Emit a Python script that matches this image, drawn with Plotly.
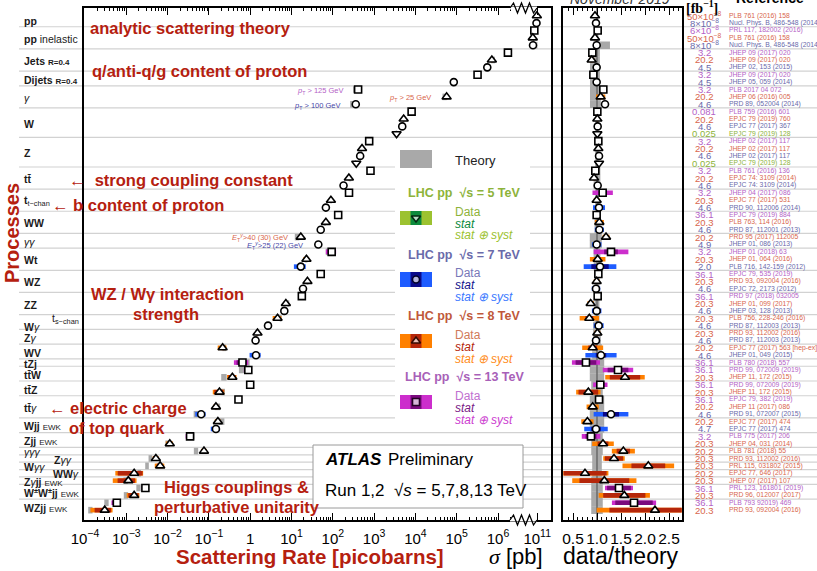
import math
import plotly.graph_objects as go

W_PX, H_PX = 817, 571

# ---------------- data (one row per measurement, top to bottom) ----------------
energy = [8, 7, 13, 8, 7,
          13, 8, 7, 13, 7,
          13, 8, 7,
          13, 8, 7, 5,
          13, 8, 7, 5,
          13, 8, 7,
          13, 8, 7,
          13, 8, 7,
          8, 7,
          13, 8, 7,
          13, 8, 7,
          13, 8, 7,
          8, 7, 8, 7, 8, 7,
          13, 13, 8, 13, 8, 13, 8, 7,
          8, 7, 13, 8,
          8, 8, 8, 8, 8,
          13, 8, 13, 8]

sigma_pb = [9.8e10, 9.6e10, 8.5e10, 7.8e10, 7.9e10,
            1.74e6, 7.1e5, 5.5e5, 3.2e5, 8.5e4,
            410, 5.7e4, 360,
            8100, 5200, 4800, 3500,
            760, 510, 460, 370,
            818, 245, 182,
            247, 90, 68,
            135, 68, 51,
            16.8, 44.6,
            94, 23, 16.8,
            51, 24.3, 19,
            17.8, 7.3, 6.7,
            4.6, 2.7, 1.5, 1.35, 0.215, 1.38,
            0.65, 0.9, 0.37, 1.0, 0.18, 0.52, 0.148, 0.065,
            0.165, 0.148, 0.035, 0.0113,
            0.076, 5.2e-3, 6.6e-3, 1.55e-3, 1.12e-3,
            2.9e-3, 1.55e-3, 5.9e-4, 3.0e-4]

ratio = [0.958, 0.979, 1.014, 0.958, 0.993,
         0.903, 0.889, 0.993, 0.924, 0.993,
         1.132, 1.076, 1.167,
         1.007, 1.007, 1.014, 1.007,
         1.028, 1.028, 1.042, 1.042,
         0.965, 0.938, 1.014,
         1.118, 0.993, 1.042,
         0.993, 1.049, 1.049,
         1.188, 0.993,
         1.292, 1.014, 1.063,
         1.028, 0.993, 0.979,
         1.014, 0.868, 0.993,
         0.84, 1.035, 1.007, 0.979, 0.91, 1.083,
         0.77, 1.4375, 1.583, 1.069, 0.82, 1.042, 0.91, 1.292,
         0.80, 0.979, 0.875, 1.125,
         1.549, 1.354, 2.069, 0.75, 1.153,
         1.458, 1.569, 1.771, 2.208]

stat_err = [0.005, 0.005, 0.005, 0.005, 0.005,
            0.01, 0.01, 0.01, 0.01, 0.01,
            0.01, 0.02, 0.01,
            0.005, 0.005, 0.005, 0.01,
            0.005, 0.005, 0.005, 0.01,
            0.01, 0.01, 0.01,
            0.07, 0.02, 0.04,
            0.03, 0.02, 0.04,
            0.02, 0.05,
            0.11, 0.06, 0.17,
            0.02, 0.04, 0.07,
            0.04, 0.05, 0.08,
            0.10, 0.03, 0.03, 0.04, 0.10, 0.10,
            0.28, 0.15, 0.20, 0.08, 0.25, 0.02, 0.05, 0.13,
            0.05, 0.10, 0.13, 0.10,
            0.09, 0.14, 0.17, 0.60, 0.45,
            0.17, 0.28, 0.22, 0.43]

tot_err = [0.02, 0.02, 0.02, 0.02, 0.02,
           0.06, 0.06, 0.06, 0.06, 0.06,
           0.05, 0.09, 0.05,
           0.03, 0.03, 0.03, 0.03,
           0.03, 0.03, 0.03, 0.03,
           0.04, 0.04, 0.04,
           0.19, 0.06, 0.12,
           0.07, 0.09, 0.09,
           0.06, 0.10,
           0.28, 0.16, 0.32,
           0.05, 0.06, 0.09,
           0.06, 0.08, 0.10,
           0.24, 0.10, 0.06, 0.08, 0.24, 0.30,
           0.38, 0.22, 0.26, 0.14, 0.31, 0.08, 0.14, 0.28,
           0.16, 0.25, 0.22, 0.20,
           0.155, 0.165, 0.26, 0.65, 0.58,
           0.20, 0.34, 0.26, 0.55]

theo_dn = [0.02, 0.02, 0.02, 0.03, 0.08,
           0.146, 0.146, 0.146, 0.146, 0.146,
           0.146, 0.146, 0.146,
           0.04, 0.04, 0.04, 0.04,
           0.04, 0.04, 0.04, 0.04,
           0.07, 0.07, 0.07,
           0.04, 0.04, 0.04,
           0.05, 0.05, 0.05,
           0.15, 0.15,
           0.07, 0.07, 0.07,
           0.05, 0.05, 0.05,
           0.05, 0.05, 0.05,
           0.05, 0.08, 0.08, 0.08, 0.10, 0.10,
           0.15, 0.15, 0.15, 0.12, 0.12, 0.15, 0.15, 0.15,
           0.15, 0.15, 0.12, 0.12,
           0.12, 0.10, 0.10, 0.10, 0.12,
           0.12, 0.12, 0.12, 0.12]

theo_up = [0.02, 0.02, 0.02, 0.03, 0.27,
           0.06, 0.06, 0.06, 0.06, 0.06,
           0.167, 0.08, 0.08,
           0.04, 0.04, 0.04, 0.04,
           0.04, 0.04, 0.04, 0.04,
           0.07, 0.07, 0.07,
           0.04, 0.04, 0.04,
           0.05, 0.05, 0.05,
           0.10, 0.10,
           0.07, 0.07, 0.07,
           0.05, 0.05, 0.05,
           0.05, 0.05, 0.05,
           0.05, 0.08, 0.08, 0.08, 0.10, 0.10,
           0.15, 0.15, 0.15, 0.12, 0.12, 0.15, 0.15, 0.15,
           0.15, 0.15, 0.12, 0.12,
           0.12, 0.10, 0.10, 0.10, 0.12,
           0.12, 0.12, 0.12, 0.12]

lumi = ["50×10<sup>−8</sup>", "8×10<sup>−8</sup>", "6×10<sup>−8</sup>", "50×10<sup>−8</sup>", "8×10<sup>−8</sup>",
        "3.2", "20.2", "4.5", "3.2", "4.5",
        "3.2", "20.2", "4.6",
        "0.081", "20.2", "4.6", "0.025",
        "3.2", "20.2", "4.6", "0.025",
        "3.2", "20.2", "4.6",
        "3.2", "20.3", "4.6",
        "36.1", "20.3", "4.6",
        "20.2", "4.9",
        "3.2", "20.3", "2.0",
        "36.1", "20.3", "4.6",
        "36.1", "20.3", "4.6",
        "20.3", "4.6", "20.3", "4.6", "20.2", "4.6",
        "36.1", "36.1", "20.3", "36.1", "20.3", "36.1", "20.2", "4.6",
        "20.2", "4.7", "3.2", "20.3",
        "20.2", "20.3", "20.3", "20.2", "20.3",
        "36.1", "20.3", "36.1", "20.3"]

refs = ["PLB 761 (2016) 158", "Nucl. Phys. B, 486-548 (2014)", "PRL 117, 182002 (2016)",
        "PLB 761 (2016) 158", "Nucl. Phys. B, 486-548 (2014)",
        "JHEP 09 (2017) 020", "JHEP 09 (2017) 020", "JHEP 02, 153 (2015)",
        "JHEP 09 (2017) 020", "JHEP 05, 059 (2014)",
        "PLB 2017 04 072", "JHEP 06 (2016) 005", "PRD 89, 052004 (2014)",
        "PLB 759 (2016) 601", "EPJC 79 (2019) 760", "EPJC 77 (2017) 367", "EPJC 79 (2019) 128",
        "JHEP 02 (2017) 117", "JHEP 02 (2017) 117", "JHEP 02 (2017) 117", "EPJC 79 (2019) 128",
        "PLB 761 (2016) 136", "EPJC 74: 3109 (2014)", "EPJC 74: 3109 (2014)",
        "JHEP 04 (2017) 086", "EPJC 77 (2017) 531", "PRD 90, 112006 (2014)",
        "EPJC 79 (2019) 884", "PLB 763, 114 (2016)", "PRD 87, 112001 (2013)",
        "PRD 95 (2017) 112005", "JHEP 01, 086 (2013)",
        "JHEP 01 (2018) 63", "JHEP 01, 064 (2016)", "PLB 716, 142-159 (2012)",
        "EPJC 79, 535 (2019)", "PRD 93, 092004 (2016)", "EPJC 72, 2173 (2012)",
        "PRD 97 (2018) 032005", "JHEP 01, 099 (2017)", "JHEP 03, 128 (2013)",
        "PLB 756, 228-246 (2016)", "PRD 87, 112003 (2013)", "PRD 93, 112002 (2016)",
        "PRD 87, 112003 (2013)", "EPJC 77 (2017) 563 [hep-ex]", "JHEP 01, 049 (2015)",
        "PLB 780 (2018) 557", "PRD 99, 072009 (2019)", "JHEP 11, 172 (2015)",
        "PRD 99, 072009 (2019)", "JHEP 11, 172 (2015)", "EPJC 79, 382 (2019)",
        "JHEP 11 (2017) 086", "PRD 91, 072007 (2015)",
        "EPJC 77 (2017) 474", "EPJC 77 (2017) 474", "PLB 775 (2017) 206", "JHEP 04, 031 (2014)",
        "PLB 781 (2018) 55", "PRD 93, 112002 (2016)", "PRL 115, 031802 (2015)",
        "EPJC 77, 646 (2017)", "JHEP 07 (2017) 107",
        "PRL 123, 161801 (2019)", "PRD 96, 012007 (2017)", "PLB 793 92019) 469", "PRD 93, 092004 (2016)"]

EWK = "<span style='font-size:8px'>EWK</span>"
R04 = "<span style='font-size:8px'><b>R=0.4</b></span>"
process_groups = [
    ("<b>pp</b>", 0, 1), ("<b>pp</b> inelastic", 2, 4),
    ("<b>Jets</b> " + R04, 5, 7), ("<b>Dijets</b> " + R04, 8, 9),
    ("<i>γ</i>", 10, 12), ("<b>W</b>", 13, 16), ("<b>Z</b>", 17, 20),
    ("<b>tt̄</b>", 21, 23), ("<b>t</b><sub>t−chan</sub>", 24, 26),
    ("<b>WW</b>", 27, 29), ("<i>γγ</i>", 30, 31), ("<b>Wt</b>", 32, 34),
    ("<b>WZ</b>", 35, 37), ("<b>ZZ</b>", 38, 40), ("t<sub>s−chan</sub>", 41, 41),
    ("<b>W</b><i>γ</i>", 42, 42), ("<b>Z</b><i>γ</i>", 43, 44), ("<b>WV</b>", 45, 46),
    ("<b>tZj</b>", 47, 47), ("<b>tt̄W</b>", 48, 49), ("<b>tt̄Z</b>", 50, 51),
    ("<b>tt̄</b><i>γ</i>", 52, 54), ("<b>Wjj</b> " + EWK, 55, 56),
    ("<b>Zjj</b> " + EWK, 57, 58), ("<i>γγγ</i>", 59, 59),
    ("<b>Z</b><i>γγ</i>", 60, 60), ("<b>W</b><i>γγ</i>", 61, 61),
    ("<b>WW</b><i>γ</i>", 62, 62), ("<b>Z</b><i>γ</i><b>jj</b> " + EWK, 63, 63),
    ("<b>W<sup>±</sup>W<sup>±</sup>jj</b> " + EWK, 64, 65),
    ("<b>WZjj</b> " + EWK, 66, 67),
]
indented_labels = {14: 50, 25: 52, 27: 51}   # group index -> left x (px)
no_line_after = {14}                           # t s-chan shares block with Wγ

left_ticks = [-4, -3, -2, -1, 0, 1, 2, 3, 4, 5, 6, 11]
right_ticks = [0.5, 1.0, 1.5, 2.0, 2.5]

# ---------------- styling ----------------
tot_col = {13: "#cc2ecc", 8: "#ff8000", 7: "#1e5cff", 5: "#9cc230"}
stat_col = {13: "#7a0a7e", 8: "#b5260a", 7: "#0a0a8a", 5: "#0c8a3c"}
ref_col = {13: "#b462c6", 8: "#d8664c", 7: "#6a6aaa", 5: "#8db33a"}
symbol = {13: "square", 8: "triangle-up", 7: "circle", 5: "triangle-down"}
msize = {13: 7, 8: 8, 7: 7, 5: 8}
THEORY = "#a9a9a9"
RED = "#b5200f"
FONT = "Liberation Sans, Arial, sans-serif"

BREAK_SHIFT = 4.05          # decades removed by the axis break


def u_of(s):
    l = math.log10(s)
    return l - BREAK_SHIFT if s > 1e8 else l


def fx(x):
    return x / W_PX


def fy(y):
    return 1 - y / H_PX


TOP, BOT = 8, 520
ROW0, ROWH = 15.7, 7.38
y_top = (TOP - ROW0) / ROWH
y_bot = (BOT - ROW0) / ROWH
L0, L1 = 84, 551
R0, R1 = 563.3, 681.7
DEC, X4 = 41.3, 85
xl_range = [-4 + (L0 - X4) / DEC, -4 + (L1 - X4) / DEC]
ONE, PXU = 597, 48
xr_range = [1 + (R0 - ONE) / PXU, 1 + (R1 - ONE) / PXU]

n = len(sigma_pb)
rows = list(range(n))

fig = go.Figure()


def hbars(xax, yax, lo, hi, colors, width_px):
    groups = {}
    for i, (l, h, c) in enumerate(zip(lo, hi, colors)):
        xs, ys = groups.setdefault(c, ([], []))
        xs += [l, h, None]
        ys += [i, i, None]
    for c, (xs, ys) in groups.items():
        fig.add_trace(go.Scatter(x=xs, y=ys, mode="lines", line=dict(color=c, width=width_px),
                                 xaxis=xax, yaxis=yax, hoverinfo="skip", showlegend=False))


# ---- left panel ----
th_c = [s / r for s, r in zip(sigma_pb, ratio)]
hbars("x", "y", [u_of(t * (1 - d)) for t, d in zip(th_c, theo_dn)],
      [u_of(t * (1 + up)) for t, up in zip(th_c, theo_up)], [THEORY] * n, 6.6)
hbars("x", "y", [u_of(s * (1 - e)) for s, e in zip(sigma_pb, tot_err)],
      [u_of(s * (1 + e)) for s, e in zip(sigma_pb, tot_err)], [tot_col[e] for e in energy], 4.6)
hbars("x", "y", [u_of(s * (1 - e)) for s, e in zip(sigma_pb, stat_err)],
      [u_of(s * (1 + e)) for s, e in zip(sigma_pb, stat_err)], [stat_col[e] for e in energy], 4.6)

# ---- right panel ----
hbars("x2", "y2", [1 - d for d in theo_dn], [1 + up for up in theo_up], [THEORY] * n, 7.6)
fig.add_trace(go.Scatter(x=[1, 1], y=[y_top, y_bot], mode="lines",
                         line=dict(color="#6a6a6a", width=1.5), xaxis="x2", yaxis="y2",
                         hoverinfo="skip", showlegend=False))
hbars("x2", "y2", [r * (1 - e) for r, e in zip(ratio, tot_err)],
      [r * (1 + e) for r, e in zip(ratio, tot_err)], [tot_col[e] for e in energy], 4.6)
hbars("x2", "y2", [r * (1 - e) for r, e in zip(ratio, stat_err)],
      [r * (1 + e) for r, e in zip(ratio, stat_err)], [stat_col[e] for e in energy], 4.6)

for xs, xax, yax in [([u_of(s) for s in sigma_pb], "x", "y"), (ratio, "x2", "y2")]:
    fig.add_trace(go.Scatter(
        x=xs, y=rows, mode="markers", xaxis=xax, yaxis=yax, hoverinfo="skip", showlegend=False,
        marker=dict(symbol=[symbol[e] for e in energy], size=[msize[e] for e in energy],
                    color="white", opacity=1, line=dict(color="black", width=1.6))))

# ---- legend markers (pixel overlay axes) ----
leg_rows = [(5, 211, 225), (7, 272, 287), (8, 334, 348), (13, 395, 409)]
fig.add_trace(go.Scatter(
    x=[416] * 4, y=[(a + b) / 2 for _, a, b in leg_rows], mode="markers", xaxis="x3", yaxis="y3",
    hoverinfo="skip", showlegend=False,
    marker=dict(symbol=[symbol[e] for e, _, _ in leg_rows], size=[msize[e] for e, _, _ in leg_rows],
                color="white", line=dict(color="black", width=1.6))))

shapes = []
annotations = []

# separator lines
bounds = []
for gi, (lab, a, b) in enumerate(process_groups[:-1]):
    if gi in no_line_after:
        continue
    bounds.append(b + 0.5)
for yb in bounds:
    shapes.append(dict(type="line", xref="paper", yref="y", x0=fx(19), x1=1, y0=yb, y1=yb,
                       line=dict(color="#d2d2d2", width=1.2), layer="below"))

# legend box & ATLAS box (white, hides separator lines)
shapes.append(dict(type="rect", xref="paper", yref="paper", x0=fx(395), x1=fx(530), y0=fy(430), y1=fy(146),
                   fillcolor="white", line=dict(width=0), layer="below"))
shapes.append(dict(type="rect", xref="paper", yref="paper", x0=fx(313), x1=fx(523), y0=fy(508), y1=fy(445),
                   fillcolor="white", line=dict(color="#9a9a9a", width=1), layer="below"))
# legend swatches
shapes.append(dict(type="rect", xref="paper", yref="paper", x0=fx(400), x1=fx(432), y0=fy(168), y1=fy(150),
                   fillcolor=THEORY, line=dict(width=0), layer="below"))
for e, a, b in leg_rows:
    shapes.append(dict(type="rect", xref="paper", yref="paper", x0=fx(400), x1=fx(432), y0=fy(b), y1=fy(a),
                       fillcolor=tot_col[e], line=dict(width=0), layer="below"))
    shapes.append(dict(type="rect", xref="paper", yref="paper", x0=fx(410.5), x1=fx(421.5), y0=fy(b), y1=fy(a),
                       fillcolor=stat_col[e], line=dict(width=0), layer="below"))

# axis break zigzags
for yb in (TOP, BOT):
    shapes.append(dict(type="line", xref="paper", yref="paper", x0=fx(510), x1=fx(537), y0=fy(yb), y1=fy(yb),
                       line=dict(color="white", width=3), layer="above"))
    pts = [(510, yb), (513.5, yb - 5), (517.5, yb + 5), (521.5, yb - 5), (525.5, yb + 5),
           (529.5, yb - 5), (533.5, yb + 5), (537, yb)]
    path = "M " + " L ".join(f"{fx(px):.5f},{fy(py):.5f}" for px, py in pts)
    shapes.append(dict(type="path", xref="paper", yref="paper", path=path,
                       line=dict(color="black", width=1.3), layer="above"))


def ann(text, x, y, size, color="black", xanchor="center", yanchor="middle", yref="paper",
        family=FONT, textangle=0):
    annotations.append(dict(text=text, x=fx(x), y=(fy(y) if yref == "paper" else y), xref="paper",
                            yref=yref, showarrow=False, xanchor=xanchor, yanchor=yanchor,
                            textangle=textangle, font=dict(size=size, color=color, family=family)))


# process labels
for gi, (lab, a, b) in enumerate(process_groups):
    ann(lab, indented_labels.get(gi, 22), (a + b) / 2 + 0.15, 10.5, "#1a1a1a", xanchor="left", yref="y")

# lumi & references
for i in rows:
    ann(lumi[i], 704, i, 9.5, ref_col[energy[i]], yref="y")
    ann(refs[i], 727, i, 6.8, ref_col[energy[i]], xanchor="left", yref="y")

# headers
ann("<i>November 2019</i>", 620, -1, 14, "#333")
ann("<b>[fb<sup>−1</sup>]</b>", 702, 7, 14, "black", family="Liberation Serif, serif")
ann("<b>Reference</b>", 770, -2, 14, "black")

# red annotations
ann("<b>analytic scattering theory</b>", 88, 28, 16.5, RED, xanchor="left")
ann("<b>q/anti-q/g content of proton</b>", 90, 71, 16.5, RED, xanchor="left")
ann("<b>←  strong coupling constant</b>", 67, 180, 16.5, RED, xanchor="left")
ann("<b>← b content of proton</b>", 50, 205, 16.5, RED, xanchor="left")
ann("<b>WZ / Wγ interaction</b>", 89, 294, 16.5, RED, xanchor="left")
ann("<b>strength</b>", 166, 314, 16.5, RED)
ann("<b>← electric charge</b>", 47, 408, 16.5, RED, xanchor="left")
ann("<b>of top quark</b>", 67, 428, 16.5, RED, xanchor="left")
ann("<b>Higgs couplings &amp;</b>", 162, 487, 16.5, RED, xanchor="left")
ann("<b>perturbative unitarity</b>", 152, 507, 16.5, RED, xanchor="left")

# axis titles
ann("<b>Processes</b>", 12, 233, 20, RED, textangle=-90)
ann("<b>Scattering Rate [picobarns]</b>", 310, 556, 20.5, RED)
ann("<span style='font-family:Liberation Serif,serif'><i>σ</i></span> [pb]", 516, 556, 22, "black")
ann("data/theory", 621, 556, 23, "black")

# legend texts
ann("Theory", 453, 160, 13, "#222", xanchor="left")
leg_text = [
    (5, 193, 212, "#8db33a", "#8db33a", "#0c8a3c", "#9cc230"),
    (7, 255, 273, "#6a6aaa", "#7878b8", "#14148c", "#3a78ff"),
    (8, 316, 335, "#c0583a", "#d07a5a", "#b5260a", "#ff8c20"),
    (13, 377, 396, "#a860b8", "#c070d0", "#7a1a86", "#cc3ed0"),
]
for e, yt, yd, ctitle, cdata, cstat, csys in leg_text:
    ann(f"<b>LHC pp  √s = {e} TeV</b>", 464, yt, 12.5, ctitle)
    ann("Data", 453, yd, 12, cdata, xanchor="left")
    ann("<i>stat</i>", 453, yd + 12, 12, cstat, xanchor="left")
    ann("<i>stat ⊕ syst</i>", 453, yd + 23.5, 12, csys, xanchor="left")

# ATLAS box
ann("<b><i>ATLAS</i></b>", 323, 459, 17, "black", xanchor="left")
ann("Preliminary", 386, 459, 17, "black", xanchor="left")
ann("Run 1,2  √<i>s</i> = 5,7,8,13 TeV", 323, 490, 17, "black", xanchor="left")

# small cut labels
ann("<i>p</i><sub>T</sub> &gt; 125 GeV", 346, 91, 7.5, "#b462c6", xanchor="right")
ann("<i>p</i><sub>T</sub> &gt; 100 GeV", 343, 106, 7.5, "#4848a8", xanchor="right")
ann("<i>p</i><sub>T</sub> &gt; 25 GeV", 433, 98, 7.5, "#d8664c", xanchor="right")
ann("<i>E</i><sub>T</sub><sup><i>γ</i></sup>&gt;40 (30) GeV", 290, 237, 7.5, "#d8664c", xanchor="right")
ann("<i>E</i><sub>T</sub><sup><i>γ</i></sup>&gt;25 (22) GeV", 305, 245, 7.5, "#4848a8", xanchor="right")

# ---------------- axes ----------------
minor_left = []
for d in range(-4, 6):
    for k in range(2, 10):
        minor_left.append(d + math.log10(k))
minor_left.append(6 + math.log10(2))


def tick_text(p):
    if p == 0:
        return "1"
    if p == 1:
        return "10<sup>1</sup>"
    return f"10<sup>{str(p).replace('-', '−')}</sup>"


ydom = [fy(BOT), fy(TOP)]
axis_common = dict(showgrid=False, zeroline=False, showline=True, linecolor="black", linewidth=1.5,
                   automargin=False)

fig.update_layout(
    template="none",
    width=W_PX, height=H_PX,
    margin=dict(l=0, r=0, t=0, b=0, pad=0),
    paper_bgcolor="white", plot_bgcolor="rgba(0,0,0,0)",
    showlegend=False,
    font=dict(family=FONT, color="black"),
    xaxis=dict(domain=[fx(L0), fx(L1)], range=xl_range, anchor="y", mirror="ticks", ticks="inside",
               ticklen=7, tickwidth=1, tickcolor="black", tickangle=0,
               tickmode="array", tickvals=[p if p <= 6 else p - BREAK_SHIFT for p in left_ticks],
               ticktext=[tick_text(p) for p in left_ticks], tickfont=dict(size=15, family=FONT),
               ticklabelstandoff=4,
               minor=dict(tickmode="array", tickvals=minor_left, ticklen=3.5, ticks="inside",
                          tickcolor="black", tickwidth=1),
               **axis_common),
    yaxis=dict(domain=ydom, range=[y_bot, y_top], anchor="x", mirror=True, showticklabels=False,
               ticks="", **axis_common),
    xaxis2=dict(domain=[fx(R0), fx(R1)], range=xr_range, anchor="y2", mirror="ticks", ticks="inside",
                ticklen=7, tickwidth=1, tickcolor="black", tickangle=0, tickmode="array",
                tickvals=right_ticks, ticktext=[f"{v:.1f}" for v in right_ticks],
                tickfont=dict(size=15.5, family=FONT), ticklabelstandoff=4,
                minor=dict(dtick=0.1, tick0=0, ticklen=3.5, ticks="inside", tickcolor="black", tickwidth=1),
                **axis_common),
    yaxis2=dict(domain=ydom, range=[y_bot, y_top], anchor="x2", mirror=True, showticklabels=False,
                ticks="", **axis_common),
    xaxis3=dict(domain=[0, 1], range=[0, W_PX], anchor="y3", visible=False),
    yaxis3=dict(domain=[0, 1], range=[H_PX, 0], anchor="x3", visible=False),
    shapes=shapes, annotations=annotations,
)

page_fix = ("document.body.style.margin='0';document.body.style.padding='0';"
            "document.body.style.overflow='hidden';"
            "document.documentElement.style.overflow='hidden';")
fig.write_html("out.html", post_script=page_fix, config={"displayModeBar": False})
